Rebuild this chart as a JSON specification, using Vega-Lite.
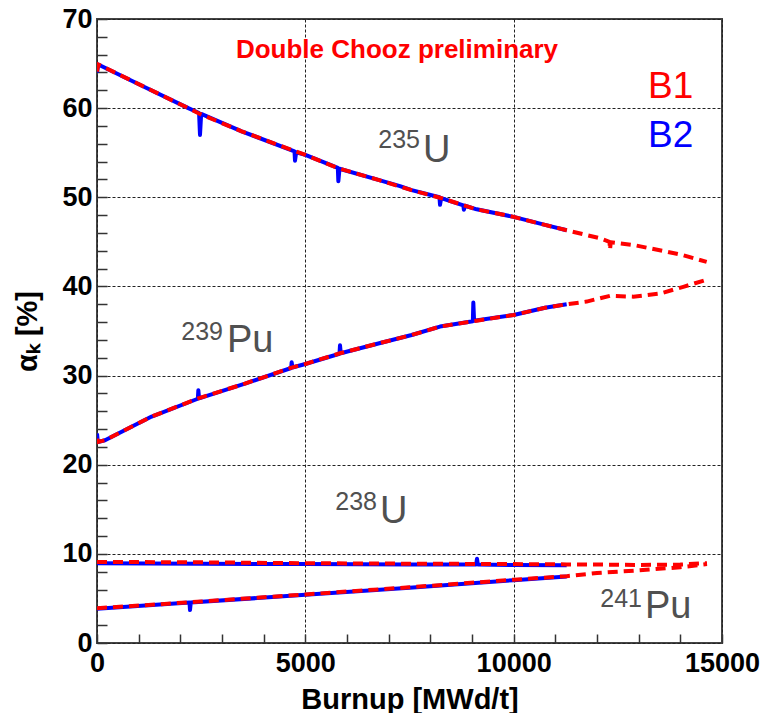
{
  "$schema": "https://vega.github.io/schema/vega-lite/v6.json",
  "autosize": {"type": "none"},
  "width": 625,
  "height": 624,
  "padding": {"left": 97, "top": 19, "right": 56, "bottom": 70},
  "background": "white",
  "config": {
    "view": {"stroke": "#444444", "strokeWidth": 2},
    "font": "Liberation Sans"
  },
  "datasets": {
    "curves": [
      {"iso": "U235", "run": "B2", "x": 0, "y": 64.0},
      {"iso": "U235", "run": "B2", "x": 30, "y": 64.9},
      {"iso": "U235", "run": "B2", "x": 1152, "y": 62.35},
      {"iso": "U235", "run": "B2", "x": 2192, "y": 60.0},
      {"iso": "U235", "run": "B2", "x": 2450, "y": 59.45},
      {"iso": "U235", "run": "B2", "x": 2472, "y": 57.0},
      {"iso": "U235", "run": "B2", "x": 2500, "y": 59.35},
      {"iso": "U235", "run": "B2", "x": 3472, "y": 57.4},
      {"iso": "U235", "run": "B2", "x": 4740, "y": 55.15},
      {"iso": "U235", "run": "B2", "x": 4752, "y": 54.1},
      {"iso": "U235", "run": "B2", "x": 4780, "y": 55.05},
      {"iso": "U235", "run": "B2", "x": 5000, "y": 54.75},
      {"iso": "U235", "run": "B2", "x": 5780, "y": 53.3},
      {"iso": "U235", "run": "B2", "x": 5792, "y": 51.8},
      {"iso": "U235", "run": "B2", "x": 5820, "y": 53.2},
      {"iso": "U235", "run": "B2", "x": 6752, "y": 51.95},
      {"iso": "U235", "run": "B2", "x": 7272, "y": 51.26},
      {"iso": "U235", "run": "B2", "x": 7552, "y": 50.8},
      {"iso": "U235", "run": "B2", "x": 8220, "y": 50.0},
      {"iso": "U235", "run": "B2", "x": 8232, "y": 49.15},
      {"iso": "U235", "run": "B2", "x": 8260, "y": 49.9},
      {"iso": "U235", "run": "B2", "x": 8792, "y": 49.1},
      {"iso": "U235", "run": "B2", "x": 8805, "y": 48.6},
      {"iso": "U235", "run": "B2", "x": 8830, "y": 49.05},
      {"iso": "U235", "run": "B2", "x": 9112, "y": 48.65},
      {"iso": "U235", "run": "B2", "x": 10000, "y": 47.8},
      {"iso": "U235", "run": "B2", "x": 10752, "y": 46.9},
      {"iso": "U235", "run": "B2", "x": 11272, "y": 46.3},

      {"iso": "U235", "run": "B1", "x": 0, "y": 64.1},
      {"iso": "U235", "run": "B1", "x": 30, "y": 64.9},
      {"iso": "U235", "run": "B1", "x": 1152, "y": 62.35},
      {"iso": "U235", "run": "B1", "x": 2192, "y": 60.0},
      {"iso": "U235", "run": "B1", "x": 2472, "y": 59.35},
      {"iso": "U235", "run": "B1", "x": 3472, "y": 57.4},
      {"iso": "U235", "run": "B1", "x": 5000, "y": 54.75},
      {"iso": "U235", "run": "B1", "x": 5792, "y": 53.25},
      {"iso": "U235", "run": "B1", "x": 6752, "y": 51.95},
      {"iso": "U235", "run": "B1", "x": 7552, "y": 50.8},
      {"iso": "U235", "run": "B1", "x": 8232, "y": 49.95},
      {"iso": "U235", "run": "B1", "x": 9112, "y": 48.65},
      {"iso": "U235", "run": "B1", "x": 10000, "y": 47.8},
      {"iso": "U235", "run": "B1", "x": 10752, "y": 46.9},
      {"iso": "U235", "run": "B1", "x": 11272, "y": 46.3},
      {"iso": "U235", "run": "B1", "x": 12072, "y": 45.4},
      {"iso": "U235", "run": "B1", "x": 12300, "y": 45.0},
      {"iso": "U235", "run": "B1", "x": 12312, "y": 44.1},
      {"iso": "U235", "run": "B1", "x": 12330, "y": 44.95},
      {"iso": "U235", "run": "B1", "x": 12872, "y": 44.65},
      {"iso": "U235", "run": "B1", "x": 13672, "y": 43.9},
      {"iso": "U235", "run": "B1", "x": 14072, "y": 43.5},
      {"iso": "U235", "run": "B1", "x": 14632, "y": 42.75},

      {"iso": "Pu239", "run": "B2", "x": 0, "y": 23.5},
      {"iso": "Pu239", "run": "B2", "x": 20, "y": 22.55},
      {"iso": "Pu239", "run": "B2", "x": 192, "y": 22.75},
      {"iso": "Pu239", "run": "B2", "x": 1312, "y": 25.4},
      {"iso": "Pu239", "run": "B2", "x": 2420, "y": 27.4},
      {"iso": "Pu239", "run": "B2", "x": 2432, "y": 28.35},
      {"iso": "Pu239", "run": "B2", "x": 2450, "y": 27.45},
      {"iso": "Pu239", "run": "B2", "x": 3552, "y": 29.1},
      {"iso": "Pu239", "run": "B2", "x": 4660, "y": 30.85},
      {"iso": "Pu239", "run": "B2", "x": 4672, "y": 31.5},
      {"iso": "Pu239", "run": "B2", "x": 4690, "y": 30.9},
      {"iso": "Pu239", "run": "B2", "x": 5000, "y": 31.3},
      {"iso": "Pu239", "run": "B2", "x": 5820, "y": 32.45},
      {"iso": "Pu239", "run": "B2", "x": 5832, "y": 33.4},
      {"iso": "Pu239", "run": "B2", "x": 5850, "y": 32.5},
      {"iso": "Pu239", "run": "B2", "x": 6752, "y": 33.6},
      {"iso": "Pu239", "run": "B2", "x": 7552, "y": 34.55},
      {"iso": "Pu239", "run": "B2", "x": 8232, "y": 35.5},
      {"iso": "Pu239", "run": "B2", "x": 9020, "y": 36.1},
      {"iso": "Pu239", "run": "B2", "x": 9032, "y": 38.2},
      {"iso": "Pu239", "run": "B2", "x": 9050, "y": 36.15},
      {"iso": "Pu239", "run": "B2", "x": 10000, "y": 36.8},
      {"iso": "Pu239", "run": "B2", "x": 10752, "y": 37.6},
      {"iso": "Pu239", "run": "B2", "x": 11272, "y": 38.0},

      {"iso": "Pu239", "run": "B1", "x": 0, "y": 22.9},
      {"iso": "Pu239", "run": "B1", "x": 20, "y": 22.55},
      {"iso": "Pu239", "run": "B1", "x": 192, "y": 22.75},
      {"iso": "Pu239", "run": "B1", "x": 1312, "y": 25.4},
      {"iso": "Pu239", "run": "B1", "x": 2432, "y": 27.45},
      {"iso": "Pu239", "run": "B1", "x": 3552, "y": 29.1},
      {"iso": "Pu239", "run": "B1", "x": 4672, "y": 30.9},
      {"iso": "Pu239", "run": "B1", "x": 5000, "y": 31.3},
      {"iso": "Pu239", "run": "B1", "x": 5832, "y": 32.5},
      {"iso": "Pu239", "run": "B1", "x": 6752, "y": 33.6},
      {"iso": "Pu239", "run": "B1", "x": 7552, "y": 34.55},
      {"iso": "Pu239", "run": "B1", "x": 8232, "y": 35.5},
      {"iso": "Pu239", "run": "B1", "x": 9112, "y": 36.15},
      {"iso": "Pu239", "run": "B1", "x": 10000, "y": 36.8},
      {"iso": "Pu239", "run": "B1", "x": 10752, "y": 37.6},
      {"iso": "Pu239", "run": "B1", "x": 11272, "y": 38.0},
      {"iso": "Pu239", "run": "B1", "x": 11752, "y": 38.3},
      {"iso": "Pu239", "run": "B1", "x": 12312, "y": 38.95},
      {"iso": "Pu239", "run": "B1", "x": 12872, "y": 38.85},
      {"iso": "Pu239", "run": "B1", "x": 13512, "y": 39.2},
      {"iso": "Pu239", "run": "B1", "x": 14072, "y": 39.95},
      {"iso": "Pu239", "run": "B1", "x": 14592, "y": 40.7},

      {"iso": "U238", "run": "B2", "x": 0, "y": 8.95},
      {"iso": "U238", "run": "B2", "x": 2500, "y": 8.9},
      {"iso": "U238", "run": "B2", "x": 5000, "y": 8.85},
      {"iso": "U238", "run": "B2", "x": 7500, "y": 8.8},
      {"iso": "U238", "run": "B2", "x": 9100, "y": 8.8},
      {"iso": "U238", "run": "B2", "x": 9120, "y": 9.45},
      {"iso": "U238", "run": "B2", "x": 9140, "y": 8.8},
      {"iso": "U238", "run": "B2", "x": 10000, "y": 8.75},
      {"iso": "U238", "run": "B2", "x": 11272, "y": 8.72},

      {"iso": "U238", "run": "B1", "x": 0, "y": 9.1},
      {"iso": "U238", "run": "B1", "x": 2500, "y": 9.05},
      {"iso": "U238", "run": "B1", "x": 5000, "y": 8.95},
      {"iso": "U238", "run": "B1", "x": 7500, "y": 8.9},
      {"iso": "U238", "run": "B1", "x": 10000, "y": 8.85},
      {"iso": "U238", "run": "B1", "x": 11272, "y": 8.82},
      {"iso": "U238", "run": "B1", "x": 12000, "y": 8.8},
      {"iso": "U238", "run": "B1", "x": 13000, "y": 8.75},
      {"iso": "U238", "run": "B1", "x": 14000, "y": 8.8},
      {"iso": "U238", "run": "B1", "x": 14640, "y": 8.95},

      {"iso": "Pu241", "run": "B2", "x": 0, "y": 3.85},
      {"iso": "Pu241", "run": "B2", "x": 2220, "y": 4.55},
      {"iso": "Pu241", "run": "B2", "x": 2232, "y": 3.7},
      {"iso": "Pu241", "run": "B2", "x": 2250, "y": 4.55},
      {"iso": "Pu241", "run": "B2", "x": 5000, "y": 5.4},
      {"iso": "Pu241", "run": "B2", "x": 7500, "y": 6.2},
      {"iso": "Pu241", "run": "B2", "x": 10000, "y": 7.05},
      {"iso": "Pu241", "run": "B2", "x": 11272, "y": 7.45},

      {"iso": "Pu241", "run": "B1", "x": 0, "y": 3.9},
      {"iso": "Pu241", "run": "B1", "x": 2500, "y": 4.65},
      {"iso": "Pu241", "run": "B1", "x": 5000, "y": 5.45},
      {"iso": "Pu241", "run": "B1", "x": 7500, "y": 6.25},
      {"iso": "Pu241", "run": "B1", "x": 10000, "y": 7.1},
      {"iso": "Pu241", "run": "B1", "x": 11272, "y": 7.5},
      {"iso": "Pu241", "run": "B1", "x": 12000, "y": 7.85},
      {"iso": "Pu241", "run": "B1", "x": 13000, "y": 8.15},
      {"iso": "Pu241", "run": "B1", "x": 14000, "y": 8.5},
      {"iso": "Pu241", "run": "B1", "x": 14640, "y": 8.85}
    ]
  },
  "layer": [
    {
      "data": {"name": "curves"},
      "transform": [{"filter": "datum.run === 'B2'"}],
      "mark": {"type": "line", "color": "#0000ff", "strokeWidth": 4, "strokeJoin": "round", "clip": true},
      "encoding": {
        "x": {
          "field": "x", "type": "quantitative",
          "scale": {"domain": [0, 15000], "nice": false, "zero": false},
          "axis": {
            "orient": "bottom",
            "title": "Burnup [MWd/t]",
            "titleFont": "Liberation Sans", "titleFontSize": 29, "titleFontWeight": "bold", "titleColor": "#000000",
            "titlePadding": 9,
            "values": [0, 1000, 2000, 3000, 4000, 5000, 6000, 7000, 8000, 9000, 10000, 11000, 12000, 13000, 14000, 15000],
            "tickCount": 100,
            "labelExpr": "datum.value % 5000 === 0 ? format(datum.value, 'd') : ''",
            "labelFont": "Liberation Sans", "labelFontSize": 27, "labelFontWeight": "bold", "labelColor": "#000000",
            "labelOverlap": false, "labelFlush": false, "labelBound": false, "labelPadding": 7,
            "domain": false,
            "offset": -9,
            "ticks": true, "tickColor": "#333333", "tickWidth": 1.5, "tickSize": 9,
            "grid": true, "gridColor": "#222222", "gridDash": [3, 2], "gridWidth": 1,
            "gridOpacity": {"condition": {"test": "datum.value % 5000 === 0", "value": 1}, "value": 0}
          }
        },
        "y": {
          "field": "y", "type": "quantitative",
          "scale": {"domain": [0, 70], "nice": false, "zero": false},
          "axis": {
            "orient": "left",
            "title": "αₖ [%]",
            "titleFont": "Liberation Sans", "titleFontSize": 29, "titleFontWeight": "bold", "titleColor": "#000000",
            "titlePadding": 19,
            "values": [0, 2, 4, 6, 8, 10, 12, 14, 16, 18, 20, 22, 24, 26, 28, 30, 32, 34, 36, 38, 40, 42, 44, 46, 48, 50, 52, 54, 56, 58, 60, 62, 64, 66, 68, 70],
            "tickCount": 100,
            "labelExpr": "datum.value % 10 === 0 ? format(datum.value, 'd') : ''",
            "labelFont": "Liberation Sans", "labelFontSize": 27, "labelFontWeight": "bold", "labelColor": "#000000",
            "labelOverlap": false, "labelFlush": false, "labelBound": false, "labelPadding": 5,
            "domain": false,
            "offset": -10,
            "ticks": true, "tickColor": "#333333", "tickWidth": 1.5, "tickSize": 10,
            "grid": true, "gridColor": "#222222", "gridDash": [3, 2], "gridWidth": 1,
            "gridOpacity": {"condition": {"test": "datum.value % 10 === 0", "value": 1}, "value": 0}
          }
        },
        "detail": {"field": "iso"}
      }
    },
    {
      "data": {"values": [
        {"t": "235", "x": 7752, "y": 55.5},
        {"t": "239", "x": 3024, "y": 33.97},
        {"t": "238", "x": 6720, "y": 14.9},
        {"t": "241", "x": 13080, "y": 4.0}
      ]},
      "mark": {"type": "text", "align": "right", "baseline": "alphabetic", "font": "Liberation Sans", "fontSize": 25, "color": "#505050"},
      "encoding": {
        "x": {"field": "x", "type": "quantitative"},
        "y": {"field": "y", "type": "quantitative"},
        "text": {"field": "t"}
      }
    },
    {
      "data": {"values": [
        {"t": "U", "x": 7824, "y": 53.95},
        {"t": "Pu", "x": 3120, "y": 32.66},
        {"t": "U", "x": 6792, "y": 13.43},
        {"t": "Pu", "x": 13152, "y": 2.77}
      ]},
      "mark": {"type": "text", "align": "left", "baseline": "alphabetic", "font": "Liberation Sans", "fontSize": 38, "color": "#505050"},
      "encoding": {
        "x": {"field": "x", "type": "quantitative"},
        "y": {"field": "y", "type": "quantitative"},
        "text": {"field": "t"}
      }
    },
    {
      "data": {"values": [
        {"t": "B1", "x": 13224, "y": 61.13},
        {"t": "B2", "x": 13224, "y": 55.63}
      ]},
      "mark": {"type": "text", "align": "left", "baseline": "alphabetic", "font": "Liberation Sans", "fontSize": 37},
      "encoding": {
        "x": {"field": "x", "type": "quantitative"},
        "y": {"field": "y", "type": "quantitative"},
        "text": {"field": "t"},
        "color": {"field": "t", "type": "nominal", "scale": {"domain": ["B1", "B2"], "range": ["#ff0000", "#0000ff"]}, "legend": null}
      }
    },
    {
      "data": {"values": [
        {"t": "Double Chooz preliminary", "x": 7200, "y": 65.66}
      ]},
      "mark": {"type": "text", "align": "center", "baseline": "alphabetic", "font": "Liberation Sans", "fontSize": 26, "fontWeight": "bold", "color": "#ff0000"},
      "encoding": {
        "x": {"field": "x", "type": "quantitative"},
        "y": {"field": "y", "type": "quantitative"},
        "text": {"field": "t"}
      }
    },
    {
      "data": {"name": "curves"},
      "transform": [{"filter": "datum.run === 'B1'"}],
      "mark": {"type": "line", "color": "#ff0000", "strokeWidth": 4, "strokeDash": [10, 6], "clip": true},
      "encoding": {
        "x": {"field": "x", "type": "quantitative"},
        "y": {"field": "y", "type": "quantitative"},
        "detail": {"field": "iso"}
      }
    }
  ]
}
